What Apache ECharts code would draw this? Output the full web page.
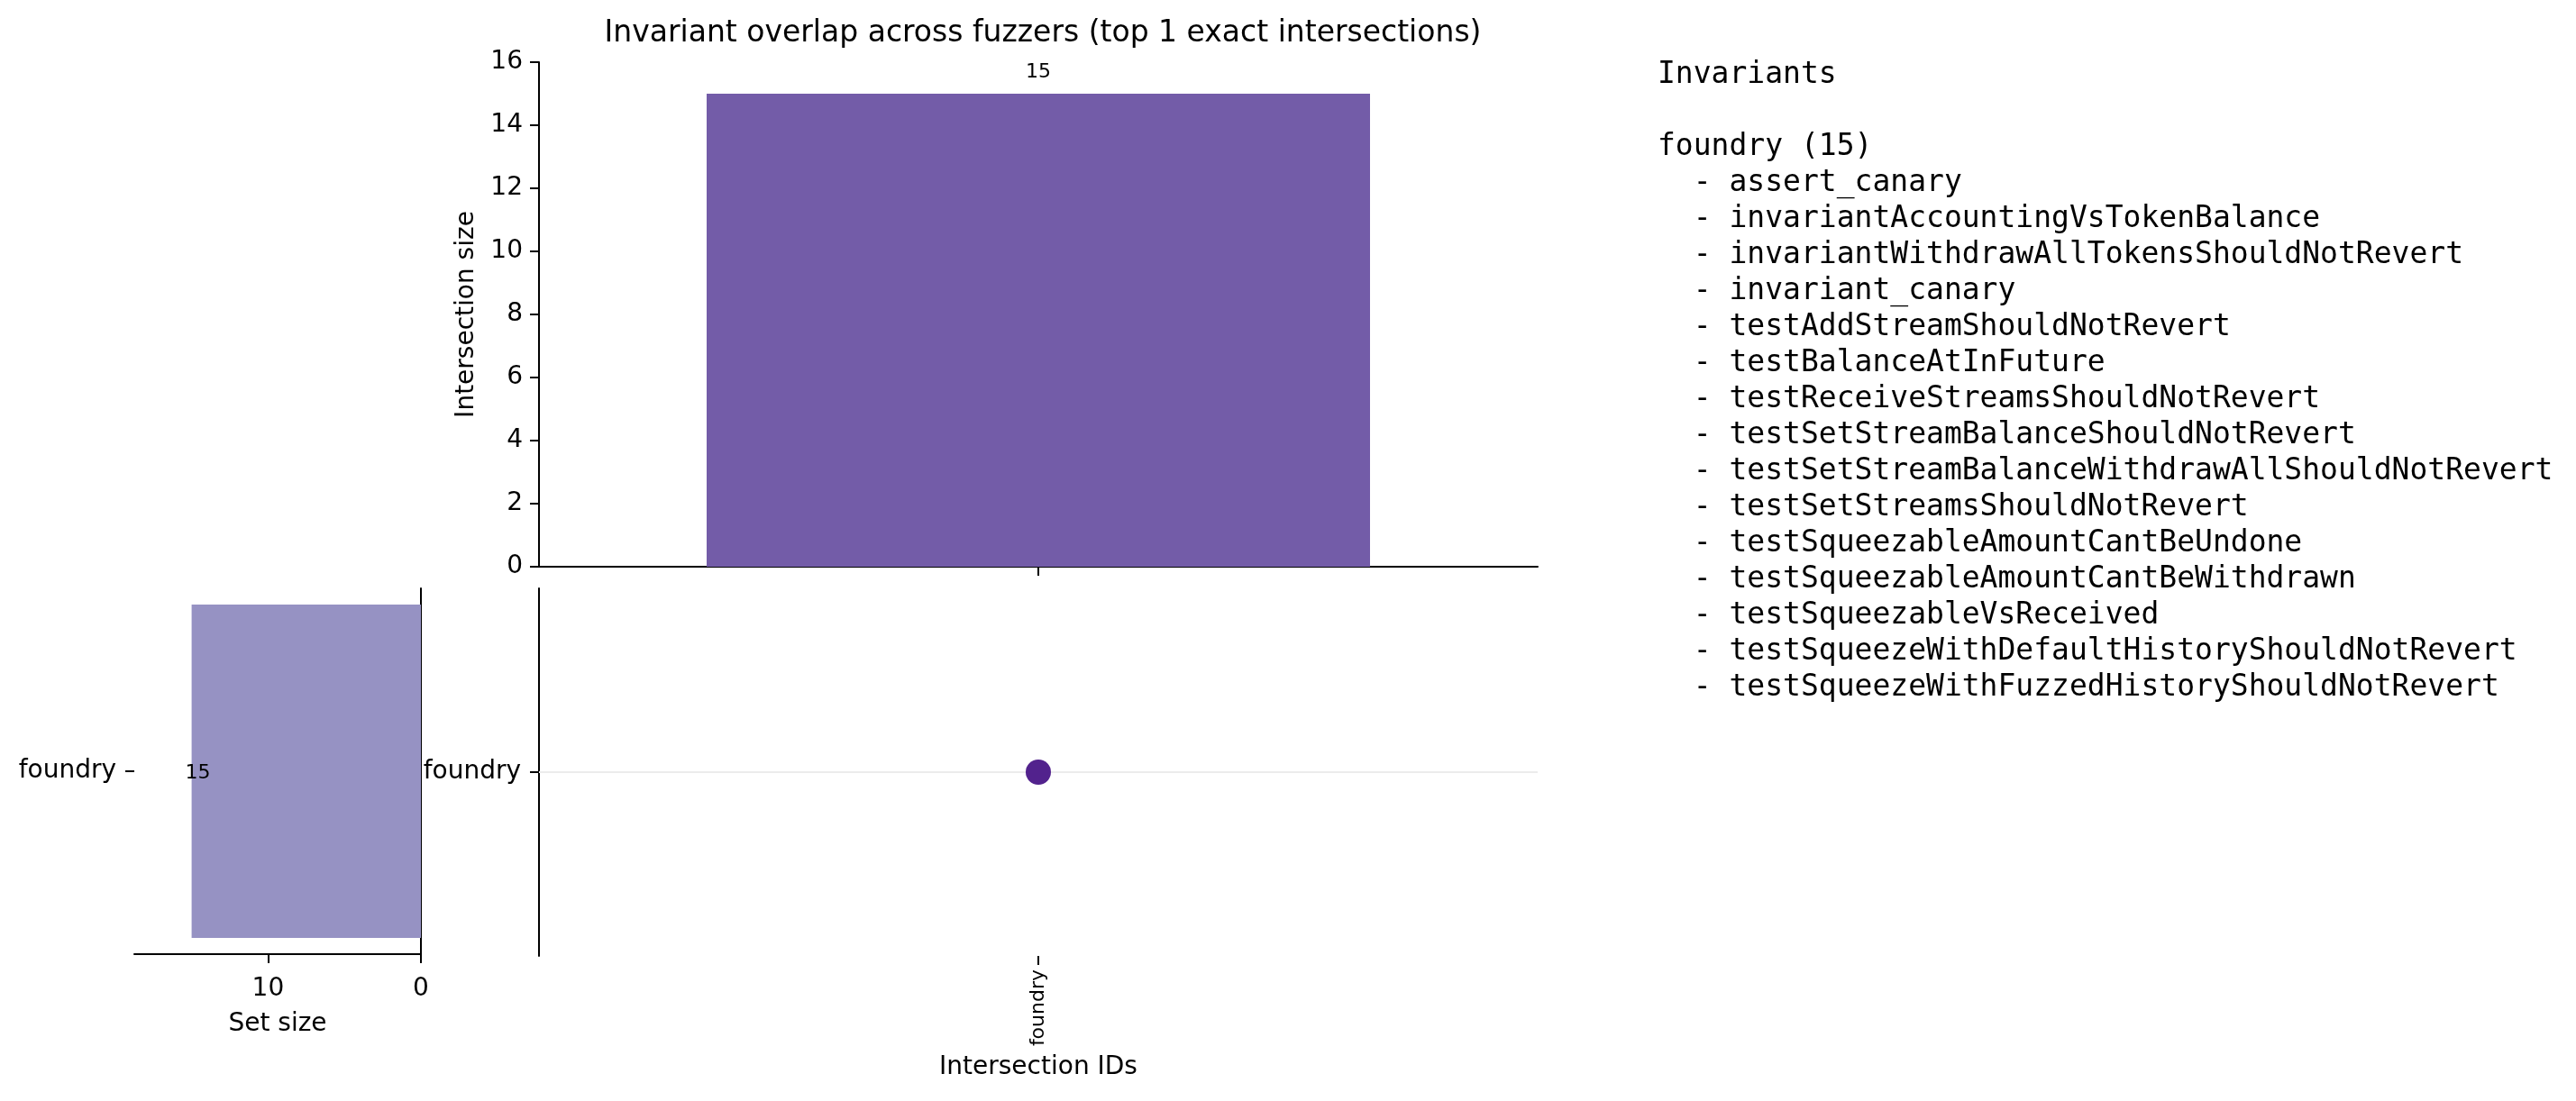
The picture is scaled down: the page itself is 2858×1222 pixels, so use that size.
<!DOCTYPE html>
<html>
<head>
<meta charset="utf-8">
<title>Invariant overlap</title>
<script src="https://cdn.jsdelivr.net/npm/echarts@6/dist/echarts.min.js"></script>
<style>
  html, body { margin: 0; padding: 0; background: #fff; }
  #chart { width: 2858px; height: 1222px; }
</style>
</head>
<body>
<div id="chart"></div>
<script>
// sets (rows of the matrix) and their sizes
const setNames = ['foundry']
const setSizes = [15]

// exact intersections (columns), their sizes and which sets they contain
const intersectionIds = ['foundry']
const intersectionSizes = [15]
const memberships = [['foundry']]

// invariant list shown on the right
const invariantGroups = [
    {
        name: 'foundry',
        items: [
            'assert_canary',
            'invariantAccountingVsTokenBalance',
            'invariantWithdrawAllTokensShouldNotRevert',
            'invariant_canary',
            'testAddStreamShouldNotRevert',
            'testBalanceAtInFuture',
            'testReceiveStreamsShouldNotRevert',
            'testSetStreamBalanceShouldNotRevert',
            'testSetStreamBalanceWithdrawAllShouldNotRevert',
            'testSetStreamsShouldNotRevert',
            'testSqueezableAmountCantBeUndone',
            'testSqueezableAmountCantBeWithdrawn',
            'testSqueezableVsReceived',
            'testSqueezeWithDefaultHistoryShouldNotRevert',
            'testSqueezeWithFuzzedHistoryShouldNotRevert'
        ]
    }
]

const sizeTicks = [0, 10]

const font = 'DejaVu Sans'
const black = '#000'

// build the text block
const textLines = ['Invariants', '']
invariantGroups.forEach(g => {
    textLines.push(`${g.name} (${g.items.length})`)
    g.items.forEach(it => textLines.push(`  - ${it}`))
})

// matrix dots
const dots = []
memberships.forEach((sets, i) => {
    sets.forEach(s => dots.push([intersectionIds[i], s]))
})

const axisLine = { show: true, onZero: false, lineStyle: { color: black, width: 2 } }
const axisTick = { show: true, length: 10, lineStyle: { color: black, width: 2 } }
// y labels sit a touch lower in the original
const yLabel = { fontSize: 28, color: black, padding: [7, 0, 0, 0] }

const chart = echarts.init(document.getElementById('chart'))
chart.setOption({
    animation: false,
    backgroundColor: '#fff',
    textStyle: { fontFamily: font, color: black },
    title: {
        text: 'Invariant overlap across fuzzers (top 1 exact intersections)',
        left: 1152,
        top: 16,
        textAlign: 'center',
        textStyle: { fontFamily: font, fontSize: 33, fontWeight: 'normal', color: black }
    },
    grid: [
        { left: 598, top: 69, width: 1108, height: 560 },
        { left: 598, top: 653, width: 1108, height: 408 },
        { left: 149, top: 653, width: 318, height: 406 }
    ],
    xAxis: [
        {
            type: 'category', gridIndex: 0, data: intersectionIds,
            axisLine, axisTick: { ...axisTick, alignWithLabel: true },
            axisLabel: { show: false }, splitLine: { show: false }
        },
        {
            type: 'category', gridIndex: 1, data: intersectionIds,
            axisLine: { show: false, onZero: false }, axisTick: { ...axisTick, alignWithLabel: true },
            axisLabel: { rotate: 90, fontSize: 22, margin: 15, color: black },
            name: 'Intersection IDs', nameLocation: 'middle', nameGap: 110,
            nameTextStyle: { fontSize: 28, color: black }
        },
        {
            type: 'value', gridIndex: 2, inverse: true, min: 0, max: 18.75,
            axisLine, axisTick: { ...axisTick, customValues: sizeTicks },
            axisLabel: { fontSize: 28, margin: 25, color: black, customValues: sizeTicks },
            splitLine: { show: false },
            name: 'Set size', nameLocation: 'middle', nameGap: 64,
            nameTextStyle: { fontSize: 28, color: black }
        }
    ],
    yAxis: [
        {
            type: 'value', gridIndex: 0, min: 0, max: 16, interval: 2,
            axisLine, axisTick,
            axisLabel: { ...yLabel, margin: 18 },
            splitLine: { show: false },
            name: 'Intersection size', nameLocation: 'middle', nameGap: 66,
            nameTextStyle: { fontSize: 28, color: black }
        },
        {
            type: 'category', gridIndex: 1, data: setNames,
            axisLine, axisTick: { ...axisTick, alignWithLabel: true },
            axisLabel: { ...yLabel, margin: 20 }
        },
        {
            type: 'category', gridIndex: 2, data: setNames, position: 'left',
            axisLine: { show: false, onZero: false }, axisTick: { ...axisTick, alignWithLabel: true },
            axisLabel: { ...yLabel, margin: 20 }
        },
        {
            type: 'category', gridIndex: 2, data: setNames, position: 'right',
            axisLine, axisTick: { show: false }, axisLabel: { show: false }
        }
    ],
    series: [
        {
            type: 'bar', xAxisIndex: 0, yAxisIndex: 0,
            data: intersectionSizes, barWidth: 736,
            itemStyle: { color: '#735ca8' },
            label: { show: true, position: 'top', distance: 13, fontSize: 22, color: black }
        },
        {
            type: 'scatter', xAxisIndex: 1, yAxisIndex: 1,
            data: dots, symbolSize: 28, z: 5,
            itemStyle: { color: '#52228d', opacity: 1 },
            markLine: {
                silent: true, symbol: 'none', z: 1,
                label: { show: false },
                lineStyle: { color: '#ececec', width: 2, type: 'solid' },
                data: setNames.map(s => ({ yAxis: s }))
            }
        },
        {
            type: 'bar', xAxisIndex: 2, yAxisIndex: 2,
            data: setSizes, barWidth: 370,
            itemStyle: { color: '#9692c3' },
            label: { show: true, position: 'insideLeft', offset: [-12, 2], fontSize: 22, color: black }
        }
    ],
    graphic: [
        {
            type: 'text', left: 1839, top: 63,
            style: {
                text: textLines.join('\n'),
                font: '33px "DejaVu Sans Mono"',
                lineHeight: 40,
                fill: black
            }
        }
    ]
})

window.addEventListener('resize', () => chart.resize())
</script>
</body>
</html>
